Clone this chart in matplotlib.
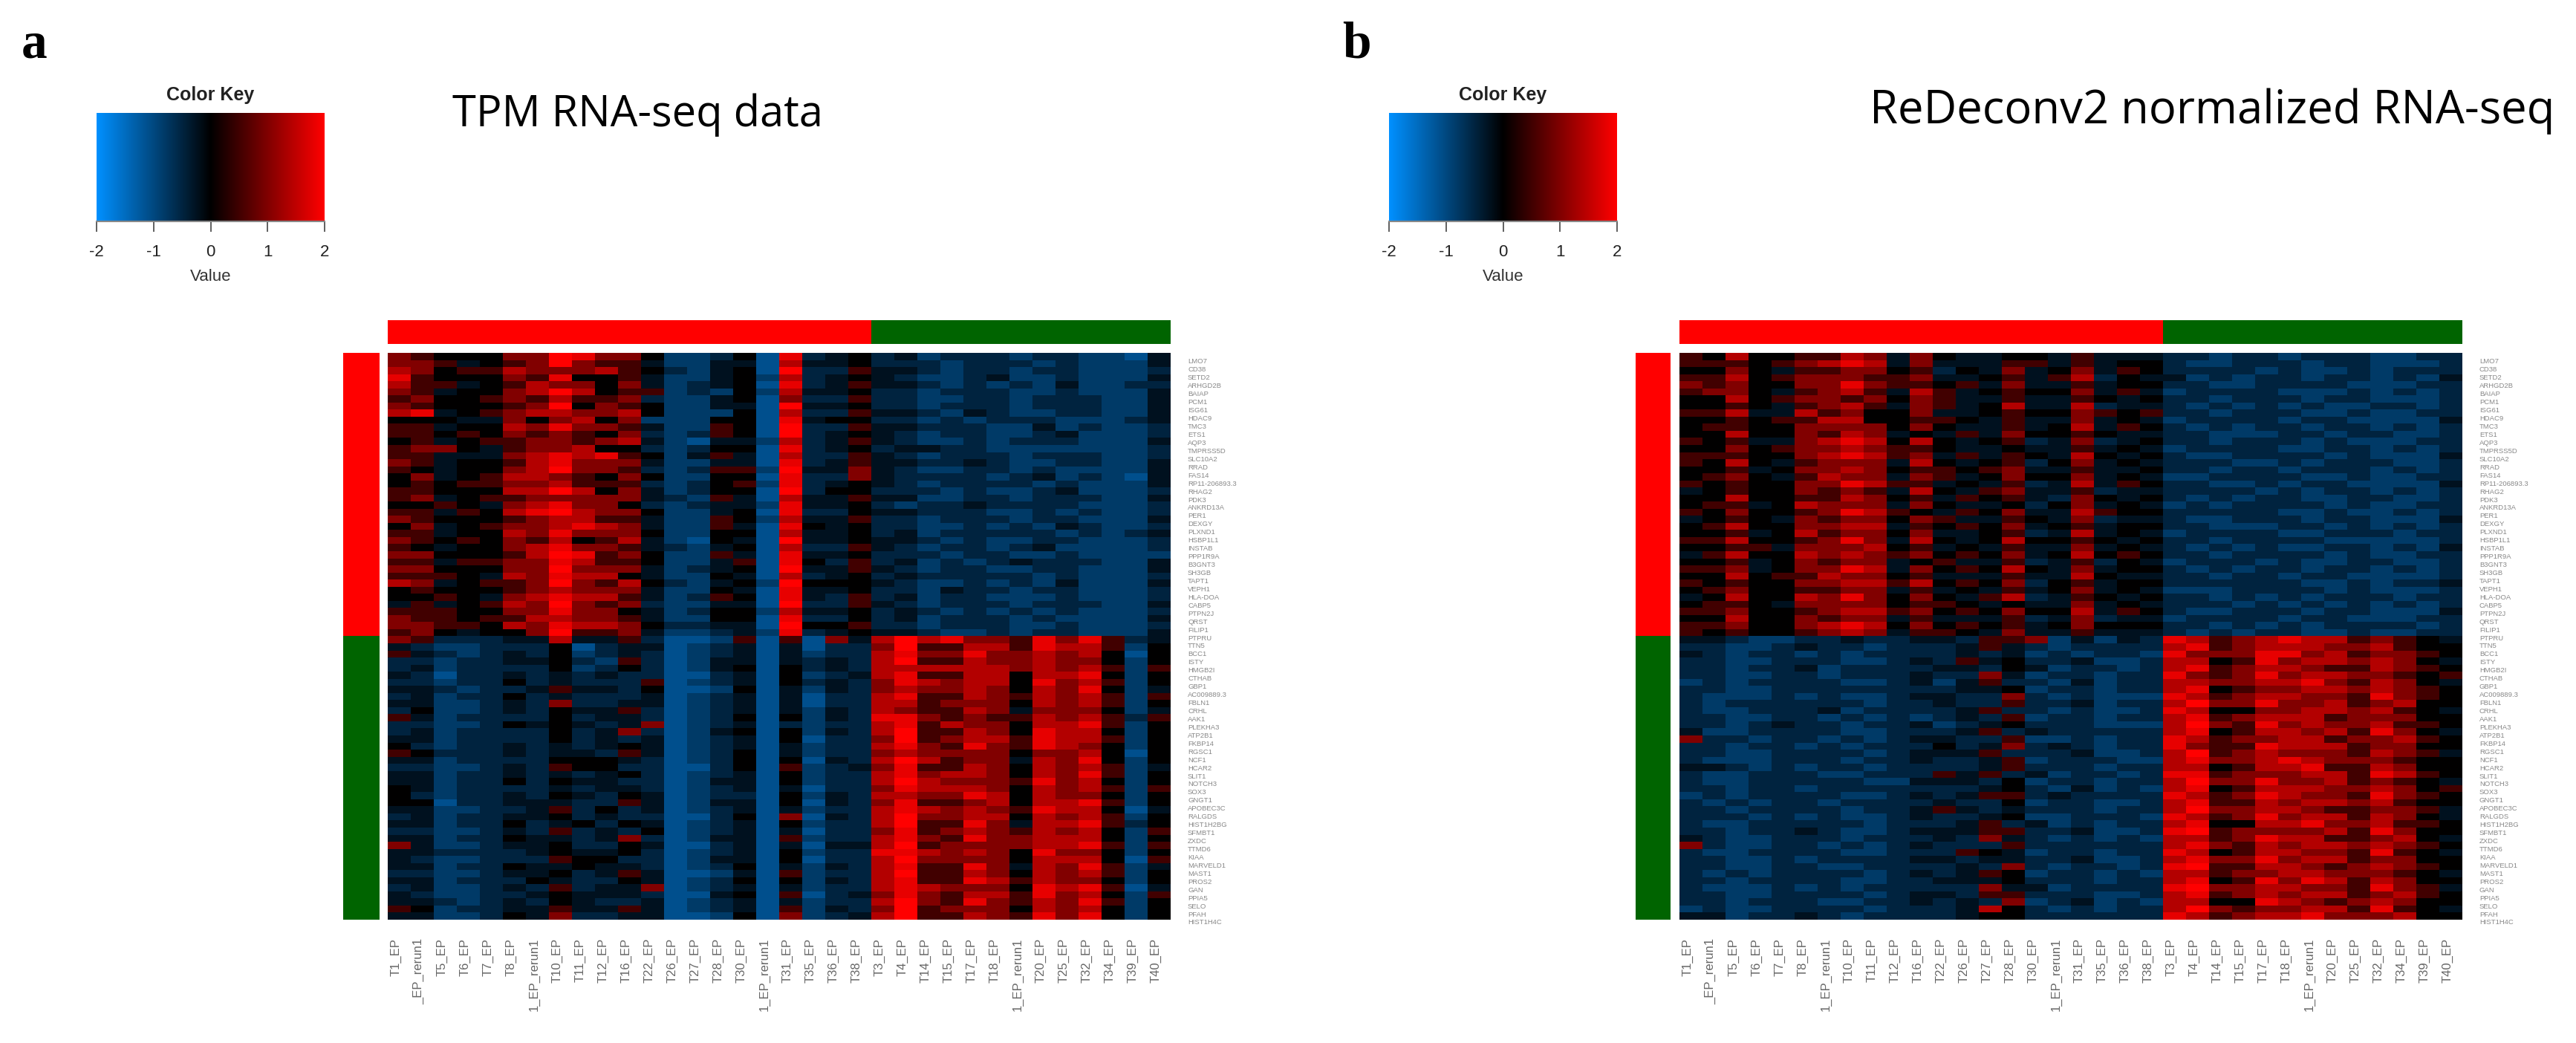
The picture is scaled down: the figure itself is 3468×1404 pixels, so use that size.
#coding=utf-8
# two heatmaps (heatmap.2 style) with colour key and side colour bars

import numpy as np
import matplotlib
matplotlib.use('Agg')
import matplotlib.pyplot as plt
from matplotlib.colors import LinearSegmentedColormap, ListedColormap

W = 3468
H = 1404

samples = ['T1_EP', '_EP_rerun1', 'T5_EP', 'T6_EP', 'T7_EP', 'T8_EP', '1_EP_rerun1', 'T10_EP', 'T11_EP',
           'T12_EP', 'T16_EP', 'T22_EP', 'T26_EP', 'T27_EP', 'T28_EP', 'T30_EP', '1_EP_rerun1', 'T31_EP',
           'T35_EP', 'T36_EP', 'T38_EP', 'T3_EP', 'T4_EP', 'T14_EP', 'T15_EP', 'T17_EP', 'T18_EP',
           '1_EP_rerun1', 'T20_EP', 'T25_EP', 'T32_EP', 'T34_EP', 'T39_EP', 'T40_EP']
sample_group = [0] * 21 + [1] * 13
gene_group = [0] * 40 + [1] * 40

genes = ['LMO7', 'CD38', 'SETD2', 'ARHGD2B', 'BAIAP', 'PCM1', 'ISG61', 'HDAC9', 'TMC3', 'ETS1', 'AQP3',
         'TMPRSS5D', 'SLC10A2', 'RRAD', 'FAS14', 'RP11-206893.3', 'RHAG2', 'PDK3', 'ANKRD13A', 'PER1',
         'DEXGY', 'PLXND1', 'HSBP1L1', 'INSTAB', 'PPP1R9A', 'B3GNT3', 'SH3GB', 'TAPT1', 'VEPH1', 'HLA-DOA',
         'CABP5', 'PTPN2J', 'QRST', 'FILIP1', 'PTPRU', 'TTN5', 'BCC1', 'ISTY', 'HMGB2I', 'CTHAB', 'GBP1',
         'AC009889.3', 'FBLN1', 'CRHL', 'AAK1', 'PLEKHA3', 'ATP2B1', 'FKBP14', 'RGSC1', 'NCF1', 'HCAR2',
         'SLIT1', 'NOTCH3', 'SOX3', 'GNGT1', 'APOBEC3C', 'RALGDS', 'HIST1H2BG', 'SFMBT1', 'ZXDC', 'TTMD6',
         'KIAA', 'MARVELD1', 'MAST1', 'PROS2', 'GAN', 'PPIA5', 'SELO', 'PFAH', 'HIST1H4C']

key_ticks = [-2, -1, 0, 1, 2]

# value of each digit in the rows below, estimated from the colours in the picture
levels = [-1.1, -0.8, -0.5, -0.25, 0.0, 0.5, 1.0, 1.4, 1.8, 2.0]

tpm_rows = [
    '65444 66986 64112 40823 42312 22122 1103', '66534 56965 53113 30733 42221 22212 1113',
    '76455 76667 54213 40922 53321 22122 1112', '85444 65844 53113 41723 43211 23112 1113',
    '75534 57664 63123 40823 53321 21213 1122', '65344 67974 55121 41733 42212 22112 1113',
    '56445 65755 62113 40622 52211 22122 2113', '65444 56946 54113 30933 42212 22122 2113',
    '78345 67766 74111 40722 53321 32112 2113', '44433 64674 61114 40834 42212 12221 1123',
    '55344 76866 53115 40922 53322 21131 2112', '55454 65654 62125 40923 43212 21123 1112',
    '45345 56656 73103 31723 53211 21222 1113', '56643 56674 42124 40823 42332 21111 1112',
    '55333 67878 54135 30722 53212 22122 2112', '65344 57866 63113 30823 53322 32112 2113',
    '54344 67966 52125 51933 63211 22121 1113', '46345 77654 64114 40822 63222 21231 2103',
    '45455 66755 52124 51823 43212 22212 1113', '55444 77974 63124 40924 42221 21123 1112',
    '56345 56666 63215 30733 53311 22122 2113', '44543 67866 42123 31833 42122 32222 1112',
    '55354 78976 64113 40822 43322 21121 2112', '65444 56775 53115 41733 52212 22122 1113',
    '46345 66787 63115 30843 42211 21213 2112', '55344 76866 64114 40733 42312 22221 2123',
    '65454 65745 73104 30933 43321 21122 1112', '54344 67866 53213 40722 53212 21231 1112',
    '66444 57985 64115 30833 42221 22112 1111', '55355 66875 54113 50842 52312 12322 2113',
    '66444 66966 63123 40933 53212 21122 1113', '55543 76877 43114 30723 42322 22212 1112',
    '76345 56965 74213 41944 43211 21213 1113', '45444 56766 63114 30833 42213 22122 1112',
    '44543 67877 53125 40832 52312 21112 1112', '35345 76965 62113 30922 53212 22122 2113',
    '55544 66866 43124 41733 42321 21212 1112', '65545 57766 53114 40822 42312 22121 1113',
    '66554 76877 64223 30944 52212 22112 1112', '56434 46955 63112 31823 43321 12122 1113',
    '65222 33733 52001 50506 37978 66586 8523', '32112 22402 33012 30302 26955 77587 7514',
    '53212 32412 32012 30312 27866 86676 7404', '22122 33421 52013 30323 27955 76676 6414',
    '23122 22412 42013 40423 27777 77676 7515', '32022 32323 22002 30412 37855 77477 8414',
    '22122 42322 25012 30423 26876 77486 7514', '33212 23533 24001 40313 26766 76476 8413',
    '23122 42322 23012 30302 27855 76576 7515', '33112 32622 33012 30302 27756 66476 7514',
    '24112 32433 52012 30313 27655 76366 6413', '53122 22423 32012 40413 28865 65576 7525',
    '22112 43432 36012 30212 27857 66477 8514', '23122 22423 62013 40413 27955 76487 7414',
    '33122 22423 23012 30402 26956 77587 7514', '42122 32323 43012 30312 27865 86587 6414',
    '54222 32332 53012 40312 26766 66466 7404', '33122 22444 32012 40403 27975 66376 8414',
    '22112 32544 22002 40512 36855 76476 7513', '33122 32323 42012 30412 27867 76476 8514',
    '33122 42433 22013 30412 27976 66586 7414', '43122 22323 32012 30302 26877 76476 7515',
    '42122 32432 43012 20413 27766 87476 6414', '44022 33322 53013 30403 26855 67477 8514',
    '33112 23524 23012 30312 27876 76587 7403', '23122 33423 22002 40603 27966 77476 7514',
    '33122 42342 43012 30412 27955 86377 8524', '22112 32523 24012 30302 26856 76576 7415',
    '33122 43323 62013 30512 27865 86677 7414', '63112 33422 43002 30303 37956 66677 8515',
    '33222 23433 42012 30412 28876 76486 6414', '32112 22544 22013 30402 27966 66477 7405',
    '33122 43343 32012 40313 27855 86376 8513', '22112 33423 53001 30512 27955 76476 7514',
    '33122 24322 43012 40413 27855 87576 6414', '23112 32523 36012 30312 27876 66487 8503',
    '32112 23433 32003 40502 36865 77586 7415', '33212 32432 23012 30312 27965 86576 8514',
    '54122 33533 53012 30513 26956 66476 7414', '33112 43622 33001 40612 37955 76586 8414',
]

redeconv_rows = [
    '54744 55763 64334 43533 32212 21222 1122', '55545 67873 63335 53534 42112 22122 1112',
    '44643 55664 52436 34635 42222 12112 1222', '55745 66655 63345 35724 33121 22122 1213',
    '65644 66865 54536 33534 42211 22221 1122', '56643 56753 75345 44635 31222 21112 1212',
    '44745 66564 65335 33543 42212 22122 1112', '44543 56753 65347 33723 32121 21211 2212',
    '55733 75644 63345 44654 52212 22112 1122', '44545 57744 55435 33634 31222 21221 1113',
    '45544 66664 64335 34735 42121 22122 1212', '44744 65763 43536 44543 32211 12212 2112',
    '54533 67874 74345 23623 42212 22121 1122', '44645 66765 54334 33534 31222 21122 1212',
    '55544 67875 63535 43743 42112 22212 1113', '54743 56663 74345 24634 32221 12122 2112',
    '44534 66764 55456 33533 42212 21222 1212', '45643 57663 65346 44634 31122 22112 1122',
    '54544 66875 53435 23735 42211 21221 1113', '34544 65653 74356 33523 32222 12122 1212',
    '44744 55764 53545 32643 42121 22112 2112', '45534 76663 64334 24634 31212 22212 1122',
    '54644 56875 43546 33754 42222 21121 1212', '34543 65664 65335 43623 32112 22122 1113',
    '45744 66773 54546 34534 42211 12212 1212', '44534 75664 63345 23734 31222 21122 2122',
    '55744 56863 74347 44543 42212 22211 1112', '44553 66674 53435 33634 32121 21122 1213',
    '35744 76765 64546 34745 42212 22212 1122', '44534 65663 45335 23524 31222 12112 2112',
    '55634 66873 64547 43634 42121 22122 1212', '44745 57664 53335 33743 32212 21221 1112',
    '54544 66775 74546 24534 42222 22112 1223', '45644 55663 53435 34634 31112 22212 1112',
    '34744 76864 64357 23543 42212 12122 2122', '45543 66664 55434 33634 32221 21212 1212',
    '55644 56775 64546 44735 42112 22122 1113', '44744 65663 53335 23623 31222 21221 1122',
    '55644 67874 64545 34644 42212 12122 2212', '54544 56763 55436 33533 32121 22112 1122',
    '33211 22322 33255 61313 28756 78775 6543', '22112 32212 22353 21222 27856 77766 7544',
    '32122 12122 22323 12122 18666 88675 6654', '22112 22112 32534 22311 27745 86776 7643',
    '22122 31222 23324 31221 27856 77655 7654', '22112 21222 32263 12212 28656 86776 6545',
    '12122 22112 31352 21312 27766 77865 7643', '22112 22222 22334 12212 27845 66776 7654',
    '21112 12112 33226 21211 18756 77665 8654', '21222 22212 23225 22312 27966 86675 6744',
    '21122 23122 22352 21211 28744 66776 7543', '22112 21212 12325 12212 27856 77756 6644',
    '22123 22122 31234 22211 17965 86766 7554', '31122 22112 22352 32222 27845 77675 8643',
    '62212 21212 33225 11212 28756 67756 6754', '22122 12122 24236 23212 28655 87775 6644',
    '22112 22212 33352 22311 27956 76665 7653', '21112 22122 32235 12221 17866 78766 6544',
    '33212 12212 22235 22212 27745 77855 7644', '21122 21122 25352 31221 28856 66775 8754',
    '21122 22211 33324 12212 27966 86675 6543', '22122 12222 22234 21312 17845 77766 7645',
    '12122 22112 32355 23222 28756 87665 8654', '21212 21222 23224 12211 27855 76776 7544',
    '22122 22122 35323 22212 27966 77655 6653', '22212 12112 32234 11222 18756 86775 7643',
    '21122 22212 22352 31212 27844 77866 7554', '22122 32112 33355 22311 28956 66675 8644',
    '32112 22122 23263 21212 17756 87755 6743', '62112 21212 32225 22222 27865 76776 7654',
    '21122 22112 22543 12212 28745 77665 8543', '22112 12222 33233 22311 27866 86775 6644',
    '22112 21122 22326 21221 28955 77656 7654', '21212 22212 32354 12212 17756 67766 6543',
    '22122 22112 23334 22212 27845 86875 7644', '21112 12122 22263 31222 28966 77665 8653',
    '22112 22212 33255 22211 27856 76775 6754', '22122 21122 32326 12312 17744 87656 7644',
    '12112 22212 22374 21212 27965 66775 8543', '33122 32122 22344 22222 28756 77866 6744',
]

key_cmap = LinearSegmentedColormap.from_list('key', ['#0090ff', '#000000', '#ff0000'], N=256)
group_cmap = ListedColormap(['#ff0000', '#006400'])

SANS = 'Liberation Sans'


def parse_rows(rows):
    return np.array([[levels[int(c)] for c in r.replace(' ', '')] for r in rows])


def px_axes(fig, left, top, right, bottom):
    # axes given in pixels of the final picture, y from the top
    return fig.add_axes([left / W, 1 - bottom / H, (right - left) / W, (bottom - top) / H])


def draw_panel(fig, rows, key_left, key_right, side_left, side_right, heat_left, heat_right):
    key_ax = px_axes(fig, key_left, 152, key_right, 298)
    key_ax.imshow(np.linspace(-2, 2, 256)[None, :], cmap=key_cmap, vmin=-2, vmax=2, aspect='auto',
                  extent=[-2, 2, 0, 1])
    key_ax.set_yticks([])
    key_ax.set_xticks(key_ticks)
    key_ax.set_xticklabels(key_ticks, fontsize=16, family=SANS, color='#222222')
    key_ax.tick_params(axis='x', length=10, width=1.2, color='#444444', pad=12)
    for s in key_ax.spines.values():
        s.set_visible(False)
    key_ax.spines['bottom'].set_visible(True)
    key_ax.spines['bottom'].set_color('#888888')
    key_ax.spines['bottom'].set_linewidth(1.5)
    mid = (key_left + key_right) / 2
    fig.text(mid / W, 1 - 128 / H, 'Color Key', fontsize=18, fontweight='bold', family=SANS,
             color='#222222', ha='center', va='center')
    fig.text(mid / W, 1 - 373 / H, 'Value', fontsize=16, family=SANS, color='#333333',
             ha='center', va='center')

    top_ax = px_axes(fig, heat_left, 431, heat_right, 463)
    top_ax.imshow([sample_group], cmap=group_cmap, vmin=0, vmax=1, aspect='auto', interpolation='nearest')
    top_ax.axis('off')

    side_ax = px_axes(fig, side_left, 475, side_right, 1238)
    side_ax.imshow(np.array(gene_group)[:, None], cmap=group_cmap, vmin=0, vmax=1, aspect='auto',
                   interpolation='nearest')
    side_ax.axis('off')

    heat_ax = px_axes(fig, heat_left, 475, heat_right, 1238)
    heat_ax.imshow(parse_rows(rows), cmap=key_cmap, vmin=-2, vmax=2, aspect='auto', interpolation='nearest')
    heat_ax.set_yticks([])
    heat_ax.set_xticks(np.arange(len(samples)) - 0.15)
    heat_ax.set_xticklabels(samples, rotation=90, fontsize=12, family=SANS, color='#666666',
                            ha='center', va='top')
    heat_ax.tick_params(axis='x', length=0, pad=18)
    for s in heat_ax.spines.values():
        s.set_visible(False)

    # gene labels run a little past the heatmap, so they go on the figure
    for name, y in zip(genes, np.linspace(487, 1242, len(genes))):
        fig.text((heat_right + 23) / W, 1 - y / H, name, fontsize=6.8, family=SANS, color='#888888',
                 ha='left', va='center')


fig = plt.figure(figsize=(W / 100, H / 100), dpi=100, facecolor='white')

draw_panel(fig, tpm_rows, 130, 437, 462, 511, 522, 1576)
draw_panel(fig, redeconv_rows, 1870, 2177, 2202, 2249, 2261, 3315)

fig.text(29 / W, 1 - 77 / H, 'a', fontsize=50, fontweight='bold', family='Liberation Serif', ha='left', va='baseline')
fig.text(1807 / W, 1 - 77 / H, 'b', fontsize=50, fontweight='bold', family='Liberation Serif', ha='left', va='baseline')
fig.text(609 / W, 1 - 170 / H, 'TPM RNA-seq data', fontsize=41.7, family='Open Sans', ha='left', va='baseline')
fig.text(2517 / W, 1 - 166 / H, 'ReDeconv2 normalized RNA-seq', fontsize=44.4, family='Open Sans', ha='left', va='baseline')

fig.savefig('out.png', dpi=100)
